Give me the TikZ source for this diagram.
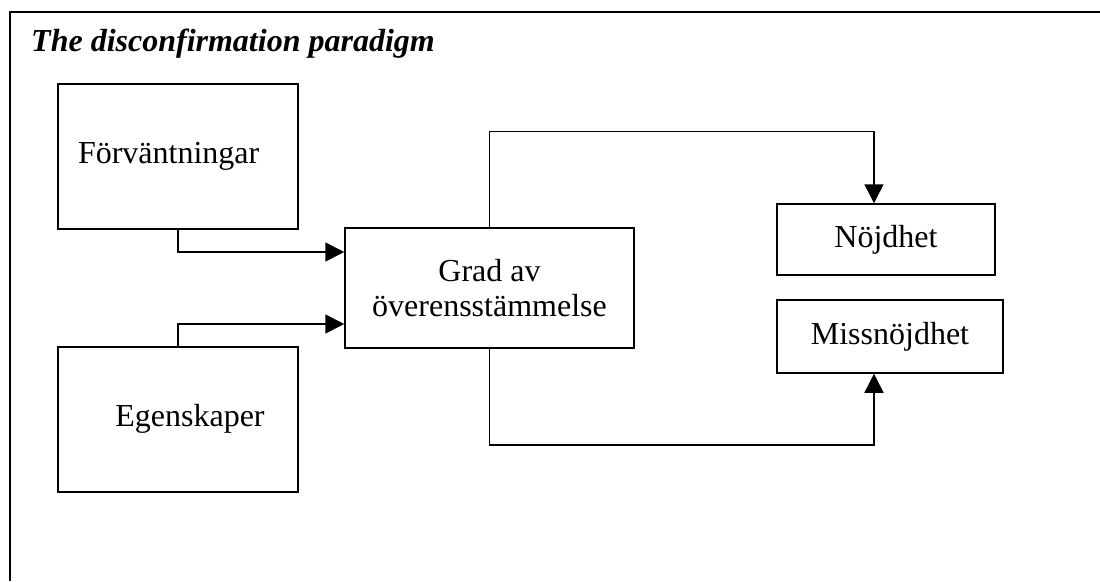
\documentclass[tikz,border=0pt]{standalone}
\usepackage{fontspec}
\setmainfont{Liberation Serif}
\usetikzlibrary{arrows.meta}
\begin{document}
\begin{tikzpicture}[x=1pt,y=-1pt,
  box/.style={draw, line width=1.5pt, inner sep=0pt},
  conn/.style={line width=1.5pt, -{Triangle[length=19pt,width=19pt]}},
  lbl/.style={font=\fontsize{32}{35}\selectfont}]
\useasboundingbox (0,0) rectangle (1100,581);
\draw[line width=2pt] (10,581) -- (10,12) -- (1100,12);
\node[anchor=base west, inner sep=0pt, font=\fontsize{32}{35}\selectfont\bfseries\itshape] (title) at (31,51) {The disconfirmation paradigm};
\node[box, lbl, minimum width=240pt, minimum height=145pt, text width=200pt, inner xsep=20pt, align=left] (forv) at (178,156.5) {Förväntningar};
\node[box, minimum width=240pt, minimum height=145pt] (egen) at (178,419.5) {};
\node[lbl, inner sep=0pt] (egentext) at (190,419) {Egenskaper};
\node[box, lbl, minimum width=289pt, minimum height=120pt, align=center] (grad) at (489.5,288) {Grad av\\överensstämmelse};
\node[box, lbl, minimum width=218pt, minimum height=71pt] (noj) at (886,239.5) {Nöjdhet};
\node[box, lbl, minimum width=226pt, minimum height=73pt] (miss) at (890,336.5) {Missnöjdhet};
\draw[conn] (grad.north) -- ++(0,-96) -| ([xshift=-12pt]noj.north);
\draw[conn] (grad.south) -- ++(0,96) -| ([xshift=-16pt]miss.south);
\draw[conn] (forv.south) |- ([yshift=36pt]grad.west);
\draw[conn] (egen.north) |- ([yshift=-36pt]grad.west);
\end{tikzpicture}
\end{document}
